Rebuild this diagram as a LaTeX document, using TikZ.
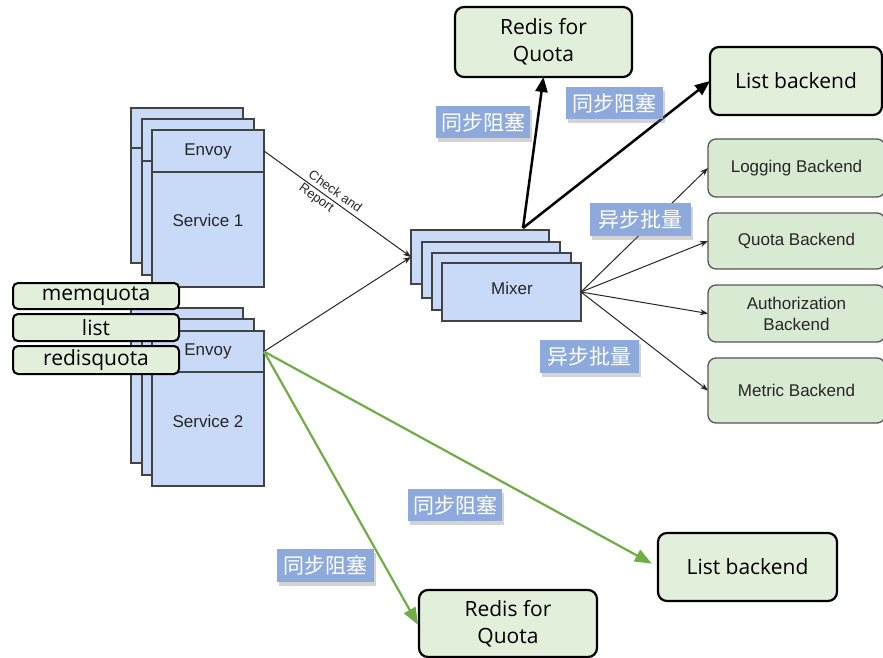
\documentclass[tikz,border=0pt]{standalone}
\usepackage{fontspec}
\setmainfont{Liberation Sans}
\newfontfamily\segoe{Open Sans}
\newfontfamily\cjk{Noto Sans CJK SC}
\usetikzlibrary{arrows.meta,shadows}
\definecolor{svcblue}{HTML}{C9DAF8}
\definecolor{bkgreen}{HTML}{D9EAD3}
\definecolor{lgreen}{HTML}{E2EFDA}
\definecolor{tagblue}{HTML}{8EA9DB}
\definecolor{arrgreen}{HTML}{70AD47}
\definecolor{txtgray}{HTML}{262626}
\definecolor{edgegray}{HTML}{434343}
\tikzset{
  bluebox/.style={draw=edgegray, fill=svcblue, line width=1.3pt, inner sep=0pt, outer sep=0pt,
    text=txtgray, font=\fontsize{17}{19}\selectfont},
  plaintext/.style={inner sep=0pt, text=txtgray, font=\fontsize{17}{19}\selectfont},
  backend/.style={draw=edgegray!90, fill=bkgreen, line width=1.3pt, rounded corners=8pt, inner sep=0pt,
    outer sep=0pt, text=txtgray, align=center, font=\fontsize{17}{21}\selectfont},
  gbox/.style={draw=black, fill=lgreen, line width=2.2pt, rounded corners=9pt, inner sep=0pt,
    outer sep=0pt, align=center, font=\segoe\fontsize{21}{27}\selectfont},
  sbox/.style={draw=black, fill=lgreen, line width=2pt, rounded corners=5pt, inner sep=0pt,
    outer sep=0pt, font=\segoe\fontsize{21}{24}\selectfont},
  tag/.style={fill=tagblue, text=white, inner sep=0pt, font=\cjk\fontsize{21}{24}\selectfont,
    drop shadow={shadow xshift=2pt, shadow yshift=-4pt, opacity=0.35}},
  thinarr/.style={draw=black!85, line width=1pt, -{Stealth[length=8pt,width=6pt]}},
  thickarr/.style={draw=black, line width=2.5pt, -{Triangle[length=15pt,width=12pt]}},
  greenarr/.style={draw=arrgreen, line width=2.2pt, -{Triangle[length=17pt,width=13pt]}},
}
\begin{document}
\begin{tikzpicture}[x=1pt,y=-1pt]
\useasboundingbox (0,0) rectangle (883,658);
% ---------- Service 1 stack ----------
\node[bluebox, minimum width=112pt, minimum height=155pt] (s1a) at (187,185.5) {};
\draw[draw=edgegray, line width=1.3pt] (131,148) -- (243,148);
\node[bluebox, minimum width=112pt, minimum height=156pt] (s1b) at (198,197) {};
\draw[draw=edgegray, line width=1.3pt] (142,161) -- (254,161);
\node[bluebox, minimum width=112pt, minimum height=42pt] (env1) at (208,151) {Envoy};
\node[bluebox, minimum width=112pt, minimum height=115pt] (svc1) at (208,229.5) {};
\node[plaintext] (svc1t) at (208,220) {Service 1};
% ---------- Service 2 stack ----------
\node[bluebox, minimum width=112pt, minimum height=155pt] (s2a) at (187,385.5) {};
\draw[draw=edgegray, line width=1.3pt] (131,348) -- (243,348);
\node[bluebox, minimum width=112pt, minimum height=156pt] (s2b) at (198,397) {};
\draw[draw=edgegray, line width=1.3pt] (142,361) -- (254,361);
\node[bluebox, minimum width=112pt, minimum height=41pt] (env2) at (208,351.5) {Envoy};
\node[bluebox, minimum width=112pt, minimum height=114pt] (svc2) at (208,429) {};
\node[plaintext] (svc2t) at (208,421) {Service 2};
% ---------- adapters ----------
\node[sbox, minimum width=166pt, minimum height=26pt] (memq) at (96,296) {memquota};
\node[sbox, minimum width=166pt, minimum height=27pt] (listq) at (96,327.5) {list};
\node[sbox, minimum width=166pt, minimum height=28pt] (redq) at (96,360) {redisquota};
% ---------- Mixer stack ----------
\node[bluebox, minimum width=138pt, minimum height=54pt] (mb1) at (480,257) {};
\node[bluebox, minimum width=138pt, minimum height=56pt] (mb2) at (491,270) {};
\node[bluebox, minimum width=139pt, minimum height=57pt] (mb3) at (501.5,281.5) {};
\node[bluebox, minimum width=139pt, minimum height=58pt] (mix) at (511.5,292) {};
\node[plaintext] (mixt) at (512,288) {Mixer};
% ---------- backends ----------
\node[backend, minimum width=177pt, minimum height=58pt] (log) at (796.5,168) {Logging Backend};
\node[backend, minimum width=177pt, minimum height=56pt] (quo) at (796.5,241) {Quota Backend};
\node[backend, minimum width=177pt, minimum height=57pt] (auth) at (796.5,313.5) {Authorization\\Backend};
\node[backend, minimum width=177pt, minimum height=65pt] (met) at (796.5,390.5) {Metric Backend};
% ---------- sync targets ----------
\node[gbox, minimum width=177pt, minimum height=70pt] (redis1) at (543.5,42) {Redis for\\Quota};
\node[gbox, minimum width=172pt, minimum height=68pt] (list1) at (796,81) {List backend};
\node[gbox, minimum width=178pt, minimum height=67pt] (redis2) at (508,623.5) {Redis for\\Quota};
\node[gbox, minimum width=179pt, minimum height=68pt] (list2) at (747.5,567) {List backend};
% ---------- connectors ----------
\draw[thinarr] (env1.east) -- (mb1.west)
  node[pos=0.45, sloped, align=left, inner sep=0pt, text=txtgray, font=\fontsize{13}{16}\selectfont] (chk) {Check and\\Report};
\draw[thinarr] (env2.east) -- (mb1.west);
\draw[thinarr] (mix.east) -- (log.west);
\draw[thinarr] (mix.east) -- (quo.west);
\draw[thinarr] (mix.east) -- (auth.west);
\draw[thinarr] (mix.east) -- (met.west);
\coordinate (mtop) at (523,228);
\draw[thickarr] (mtop) -- (redis1.south);
\draw[thickarr] (mtop) -- (list1.west);
\draw[greenarr, shorten >=7pt] (env2.east) -- (list2.west);
\draw[greenarr, shorten >=2pt] (env2.east) -- ([yshift=-3pt]redis2.west);
% ---------- tags ----------
\node[tag, minimum width=94pt, minimum height=32pt] (t1) at (483,122) {同步阻塞};
\node[tag, minimum width=97pt, minimum height=32pt] (t2) at (614.5,103) {同步阻塞};
\node[tag, minimum width=101pt, minimum height=33pt] (a1) at (640.5,219.5) {异步批量};
\node[tag, minimum width=99pt, minimum height=33pt] (a2) at (589.5,356.5) {异步批量};
\node[tag, minimum width=94pt, minimum height=32pt] (t3) at (455,505) {同步阻塞};
\node[tag, minimum width=97pt, minimum height=33pt] (t4) at (325.5,565.5) {同步阻塞};
\end{tikzpicture}
\end{document}
